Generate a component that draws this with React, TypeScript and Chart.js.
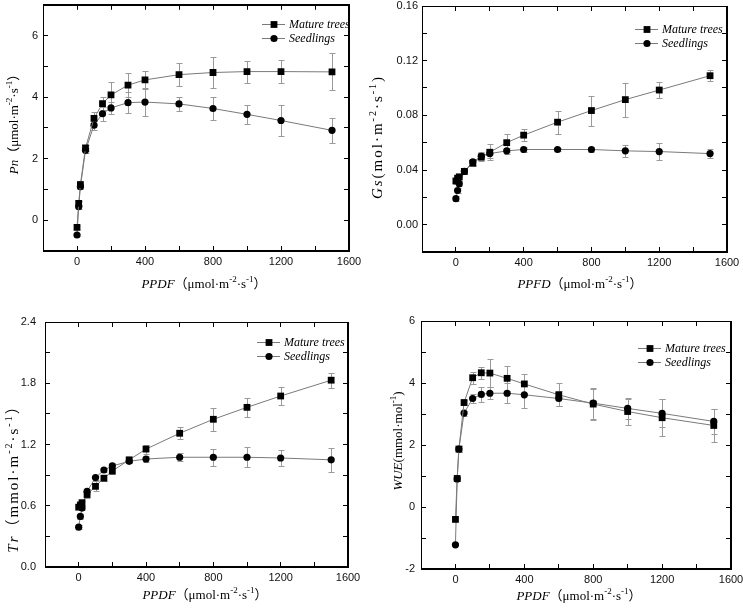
import React, { useEffect, useRef } from 'react';
import { Chart, registerables } from 'chart.js';
Chart.register(...registerables);

// ---------------- DATA ----------------
const ppfd = [0, 10, 20, 50, 100, 150, 200, 300, 400, 600, 800, 1000, 1200, 1500];
const seriesNames = ['Mature trees', 'Seedlings'];

const pnMature = [-0.23, 0.55, 1.16, 2.35, 3.31, 3.79, 4.07, 4.39, 4.56, 4.73, 4.8, 4.83, 4.83, 4.82];
const pnMatureErr = [0.05, 0.08, 0.12, 0.1, 0.2, 0.2, 0.43, 0.38, 0.3, 0.37, 0.49, 0.36, 0.38, 0.6];
const pnSeed = [-0.48, 0.44, 1.09, 2.27, 3.09, 3.46, 3.65, 3.82, 3.84, 3.78, 3.63, 3.44, 3.24, 2.92];
const pnSeedErr = [0.04, 0.06, 0.08, 0.08, 0.15, 0.22, 0.2, 0.34, 0.45, 0.22, 0.38, 0.3, 0.49, 0.41];

const gsMature = [0.032, 0.034, 0.035, 0.039, 0.045, 0.0495, 0.053, 0.06, 0.0655, 0.075, 0.0835, 0.0915, 0.0985, 0.109];
const gsMatureErr = [0.002, 0.002, 0.002, 0.002, 0.002, 0.003, 0.006, 0.0065, 0.0045, 0.0085, 0.011, 0.0125, 0.006, 0.004];
const gsSeed = [0.019, 0.025, 0.03, 0.039, 0.046, 0.05, 0.052, 0.054, 0.055, 0.055, 0.055, 0.054, 0.0535, 0.052];
const gsSeedErr = [0.002, 0.002, 0.002, 0.002, 0.002, 0.003, 0.003, 0.002, 0.002, 0.001, 0.002, 0.0045, 0.0065, 0.0035];

const trMature = [0.586, 0.608, 0.63, 0.71, 0.79, 0.87, 0.94, 1.05, 1.155, 1.31, 1.447, 1.564, 1.675, 1.83];
const trMatureErr = [0.02, 0.02, 0.02, 0.03, 0.05, 0.03, 0.03, 0.03, 0.045, 0.06, 0.11, 0.093, 0.087, 0.075];
const trSeed = [0.39, 0.495, 0.577, 0.74, 0.876, 0.95, 0.99, 1.035, 1.058, 1.075, 1.075, 1.075, 1.068, 1.05];
const trSeedErr = [0.02, 0.02, 0.02, 0.02, 0.02, 0.02, 0.03, 0.02, 0.03, 0.04, 0.083, 0.098, 0.08, 0.115];

const wueMature = [-0.4, 0.92, 1.87, 3.37, 4.17, 4.33, 4.32, 4.15, 3.97, 3.62, 3.32, 3.08, 2.88, 2.63];
const wueMatureErr = [0.05, 0.08, 0.1, 0.08, 0.19, 0.2, 0.45, 0.4, 0.32, 0.37, 0.5, 0.42, 0.6, 0.53];
const wueSeed = [-1.22, 0.9, 1.87, 3.03, 3.5, 3.63, 3.67, 3.67, 3.62, 3.5, 3.35, 3.18, 3.02, 2.76];
const wueSeedErr = [0.05, 0.06, 0.1, 0.08, 0.15, 0.25, 0.2, 0.32, 0.43, 0.25, 0.5, 0.35, 0.45, 0.4];

const xMajor = [0, 400, 800, 1200, 1600];
const xMinor = [200, 600, 1000, 1400];
const pnYMajor = [0, 2, 4, 6];
const pnYMinor = [1, 3, 5];
const gsYMajor = [0, 0.04, 0.08, 0.12, 0.16];
const gsYMinor = [0.02, 0.06, 0.1, 0.14];
const trYMajor = [0, 0.6, 1.2, 1.8, 2.4];
const trYMinor = [0.3, 0.9, 1.5, 2.1];
const wueYMajor = [-2, 0, 2, 4, 6];
const wueYMinor = [-1, 1, 3, 5];

type Seg = { t: string; it?: boolean; sup?: boolean };
const unitTail: Seg[] = [{ t: '（μmol·m' }, { t: '-2', sup: true }, { t: '·s' }, { t: '-1', sup: true }, { t: '）' }];
const pnTitle: Seg[] = [{ t: 'Pn', it: true }, ...unitTail];
const gsTitle: Seg[] = [{ t: 'Gs', it: true }, { t: '(mol·m' }, { t: '-2', sup: true }, { t: '·s' }, { t: '-1', sup: true }, { t: ')' }];
const trTitle: Seg[] = [{ t: 'Tr', it: true }, { t: '（mmol·m' }, { t: '-2', sup: true }, { t: '·s' }, { t: '-1', sup: true }, { t: '）' }];
const wueTitle: Seg[] = [{ t: 'WUE', it: true }, { t: '(mmol·mol' }, { t: '-1', sup: true }, { t: ')' }];
const ppdfTitle: Seg[] = [{ t: 'PPDF', it: true }, ...unitTail];
const ppfdTitle: Seg[] = [{ t: 'PPFD', it: true }, ...unitTail];

// ---------------- STYLE ----------------
const SERIF = '"Liberation Serif", "Times New Roman", "Noto Sans CJK SC", serif';
const SANS = '"Liberation Sans", Arial, Helvetica, sans-serif';
const AXIS = '#000000';
const LINE = '#7a7a7a';
const ERR = '#9a9a9a';
const TICK_LEN = 5;

function segFont(s: Seg, size: number) {
  const sz = s.sup ? Math.round(size * 0.68) : size;
  return `${s.it ? 'italic ' : ''}${sz}px ${SERIF}`;
}

function drawRich(ctx: CanvasRenderingContext2D, segs: Seg[], x: number, y: number, size: number, rotate: boolean, spacing = 0) {
  ctx.save();
  ctx.translate(x, y);
  if (rotate) ctx.rotate(-Math.PI / 2);
  ctx.textAlign = 'left';
  ctx.textBaseline = 'alphabetic';
  ctx.fillStyle = '#000';
  const chars: { c: string; f: string; dy: number; w: number }[] = [];
  let total = 0;
  segs.forEach((s) => {
    const f = segFont(s, size);
    ctx.font = f;
    for (const c of Array.from(s.t)) {
      const w = ctx.measureText(c).width + spacing;
      chars.push({ c, f, dy: s.sup ? -size * 0.42 : 0, w });
      total += w;
    }
  });
  total -= spacing;
  let cx = -total / 2;
  const base = size * 0.35;
  chars.forEach((ch) => {
    ctx.font = ch.f;
    ctx.fillText(ch.c, cx, base + ch.dy);
    cx += ch.w;
  });
  ctx.restore();
}

type Cfg = {
  left: number; top: number; w: number; h: number;
  area: [number, number, number, number];
  yMin: number; yMax: number; yMajor: number[]; yMinor: number[]; dec: number;
  mature: number[]; matureErr: number[]; seed: number[]; seedErr: number[];
  yTitle: Seg[]; yTitlePos: [number, number]; yTitleSize: number; yTitleSpacing: number;
  xTitle: Seg[]; xTitlePos: [number, number];
  legendPos: [number, number]; yTickPad: number;
};

const panels: Cfg[] = [
  {
    left: 0, top: 0, w: 372, h: 300, area: [43, 2, 349, 251],
    yMin: -1, yMax: 7, yMajor: pnYMajor, yMinor: pnYMinor, dec: 0,
    mature: pnMature, matureErr: pnMatureErr, seed: pnSeed, seedErr: pnSeedErr,
    yTitle: pnTitle, yTitlePos: [13, 121], yTitleSize: 13, yTitleSpacing: 0,
    xTitle: ppdfTitle, xTitlePos: [204, 283], legendPos: [262, 24], yTickPad: 5,
  },
  {
    left: 360, top: 0, w: 383, h: 300, area: [62, 6, 367, 252],
    yMin: -0.02, yMax: 0.16, yMajor: gsYMajor, yMinor: gsYMinor, dec: 2,
    mature: gsMature, matureErr: gsMatureErr, seed: gsSeed, seedErr: gsSeedErr,
    yTitle: gsTitle, yTitlePos: [17, 138], yTitleSize: 15, yTitleSpacing: 2,
    xTitle: ppfdTitle, xTitlePos: [220, 283], legendPos: [275, 29], yTickPad: 4,
  },
  {
    left: 0, top: 300, w: 372, h: 309, area: [45, 22, 348, 267],
    yMin: 0, yMax: 2.4, yMajor: trYMajor, yMinor: trYMinor, dec: 1,
    mature: trMature, matureErr: trMatureErr, seed: trSeed, seedErr: trSeedErr,
    yTitle: trTitle, yTitlePos: [13, 176], yTitleSize: 15, yTitleSpacing: 2,
    xTitle: ppdfTitle, xTitlePos: [205, 294], legendPos: [257, 42], yTickPad: 9,
  },
  {
    left: 360, top: 300, w: 383, h: 309, area: [61, 21, 371, 269],
    yMin: -2, yMax: 6, yMajor: wueYMajor, yMinor: wueYMinor, dec: 0,
    mature: wueMature, matureErr: wueMatureErr, seed: wueSeed, seedErr: wueSeedErr,
    yTitle: wueTitle, yTitlePos: [37, 141], yTitleSize: 13, yTitleSpacing: 0,
    xTitle: ppdfTitle, xTitlePos: [219, 295], legendPos: [278, 48], yTickPad: 6,
  },
];

function drawMarker(ctx: CanvasRenderingContext2D, kind: number, x: number, y: number) {
  ctx.fillStyle = '#000';
  if (kind === 0) {
    ctx.fillRect(x - 3.4, y - 3.4, 6.8, 6.8);
  } else {
    ctx.beginPath();
    ctx.arc(x, y, 3.6, 0, Math.PI * 2);
    ctx.fill();
  }
}

function makePlugin(cfg: Cfg) {
  return {
    id: 'deco',
    beforeDatasetsDraw(chart: any) {
      const ctx: CanvasRenderingContext2D = chart.ctx;
      const xs = chart.scales.x;
      const ys = chart.scales.y;
      ctx.save();
      ctx.setLineDash([]);
      ctx.strokeStyle = ERR;
      ctx.lineWidth = 1;
      const pairs: [number[], number[]][] = [[cfg.mature, cfg.matureErr], [cfg.seed, cfg.seedErr]];
      pairs.forEach(([v, e]) => {
        ppfd.forEach((x, i) => {
          const px = Math.round(xs.getPixelForValue(x)) + 0.5;
          const y1 = Math.round(ys.getPixelForValue(v[i] + e[i])) + 0.5;
          const y2 = Math.round(ys.getPixelForValue(v[i] - e[i])) + 0.5;
          ctx.beginPath();
          ctx.moveTo(px, y1);
          ctx.lineTo(px, y2);
          ctx.moveTo(px - 3, y1);
          ctx.lineTo(px + 3, y1);
          ctx.moveTo(px - 3, y2);
          ctx.lineTo(px + 3, y2);
          ctx.stroke();
        });
      });
      ctx.restore();
    },
    afterDraw(chart: any) {
      const ctx: CanvasRenderingContext2D = chart.ctx;
      ctx.save();
      drawRich(ctx, cfg.yTitle, cfg.yTitlePos[0], cfg.yTitlePos[1], cfg.yTitleSize, true, cfg.yTitleSpacing);
      drawRich(ctx, cfg.xTitle, cfg.xTitlePos[0], cfg.xTitlePos[1], 13, false);
      const [lx, ly] = cfg.legendPos;
      seriesNames.forEach((name, k) => {
        const yy = Math.round(ly + k * 13.5);
        ctx.fillStyle = LINE;
        ctx.fillRect(lx, yy, 23, 1);
        drawMarker(ctx, k, lx + 12, yy + 0.5);
        ctx.fillStyle = '#000';
        ctx.font = `italic 12px ${SERIF}`;
        ctx.textAlign = 'left';
        ctx.textBaseline = 'middle';
        ctx.fillText(name, lx + 27, yy + 0.5);
      });
      ctx.restore();
    },
  };
}

function Panel({ cfg }: { cfg: Cfg }) {
  const ref = useRef<HTMLCanvasElement>(null);
  const frameRef = useRef<HTMLDivElement>(null);
  useEffect(() => {
    const canvas = ref.current;
    if (!canvas) return;
    const [l, t, r, b] = cfg.area;
    const zeroPad = (s: any) => { s.paddingLeft = 0; s.paddingRight = 0; s.paddingTop = 0; s.paddingBottom = 0; };
    const mk = (vals: number[], kind: number) => ({
      label: seriesNames[kind],
      data: ppfd.map((x, i) => ({ x, y: vals[i] })),
      borderColor: LINE,
      borderWidth: 1,
      backgroundColor: '#000',
      pointBackgroundColor: '#000',
      pointBorderColor: '#000',
      pointBorderWidth: 0,
      pointStyle: kind === 0 ? 'rect' : 'circle',
      pointRadius: kind === 0 ? 4.8 : 3.6,
      tension: 0,
      fill: false,
      xAxisID: 'x',
      yAxisID: 'y',
    });
    const xTickList = [...xMajor, ...xMinor].sort((a, c) => a - c);
    const yTickList = [...cfg.yMajor, ...cfg.yMinor].sort((a, c) => a - c);
    const gridOpts = {
      display: true, drawOnChartArea: false, drawTicks: true,
      tickLength: -TICK_LEN, tickColor: AXIS, tickWidth: 1, color: AXIS, lineWidth: 1,
    };
    const borderOpts = { display: true, color: AXIS, width: 1 };
    const chart = new Chart(canvas, {
      type: 'line',
      data: { datasets: [mk(cfg.mature, 0), mk(cfg.seed, 1)] as any },
      options: {
        responsive: false,
        animation: false,
        devicePixelRatio: 1,
        layout: { padding: { left: 0, top: t, right: cfg.w - r, bottom: 0 } },
        plugins: { legend: { display: false }, tooltip: { enabled: false } },
        scales: {
          x: {
            type: 'linear', position: 'bottom', min: -200, max: 1600,
            grid: gridOpts, border: borderOpts,
            afterBuildTicks: (s: any) => { s.ticks = xTickList.map((v) => ({ value: v })); },
            afterFit: (s: any) => { s.height = cfg.h - b; zeroPad(s); },
            ticks: {
              padding: 4 + TICK_LEN, autoSkip: false, maxRotation: 0,
              font: { family: SANS, size: 11 }, color: '#111',
              callback: (v: any) => (xMajor.includes(Number(v)) ? String(v) : ''),
            },
          },
          x2: {
            type: 'linear', position: 'top', min: -200, max: 1600,
            grid: gridOpts, border: borderOpts,
            afterBuildTicks: (s: any) => { s.ticks = xTickList.map((v) => ({ value: v })); },
            afterFit: (s: any) => { s.height = 0; zeroPad(s); },
            ticks: { display: false },
          },
          y: {
            type: 'linear', position: 'left', min: cfg.yMin, max: cfg.yMax,
            grid: gridOpts, border: borderOpts,
            afterBuildTicks: (s: any) => { s.ticks = yTickList.map((v) => ({ value: v })); },
            afterFit: (s: any) => { s.width = l; zeroPad(s); },
            ticks: {
              padding: cfg.yTickPad + TICK_LEN, autoSkip: false,
              font: { family: SANS, size: 11 }, color: '#111',
              callback: (v: any) => (cfg.yMajor.some((m) => Math.abs(m - Number(v)) < 1e-9) ? Number(v).toFixed(cfg.dec) : ''),
            },
          },
          y2: {
            type: 'linear', position: 'right', min: cfg.yMin, max: cfg.yMax,
            grid: gridOpts, border: borderOpts,
            afterBuildTicks: (s: any) => { s.ticks = yTickList.map((v) => ({ value: v })); },
            afterFit: (s: any) => { s.width = 0; zeroPad(s); },
            ticks: { display: false },
          },
        },
      } as any,
      plugins: [makePlugin(cfg)],
    });
    // overlay frame aligned to the chart's own plot area
    const fr = frameRef.current;
    if (fr) {
      const a = chart.chartArea;
      fr.style.left = `${cfg.left + Math.round(a.left)}px`;
      fr.style.top = `${cfg.top + Math.round(a.top)}px`;
      fr.style.width = `${Math.round(a.right - a.left)}px`;
      fr.style.height = `${Math.round(a.bottom - a.top)}px`;
    }
    return () => chart.destroy();
  }, [cfg]);
  return (
    <>
      <canvas
        ref={ref}
        width={cfg.w}
        height={cfg.h}
        style={{ position: 'absolute', left: cfg.left, top: cfg.top, width: cfg.w, height: cfg.h }}
      />
      <div
        ref={frameRef}
        style={{ position: 'absolute', border: '1px solid #000', boxSizing: 'border-box', pointerEvents: 'none' }}
      />
    </>
  );
}

export default function App() {
  return (
    <div style={{ position: 'fixed', left: 0, top: 0, width: 743, height: 609, background: '#fff', overflow: 'hidden' }}>
      {panels.map((cfg, i) => (
        <Panel key={i} cfg={cfg} />
      ))}
    </div>
  );
}
